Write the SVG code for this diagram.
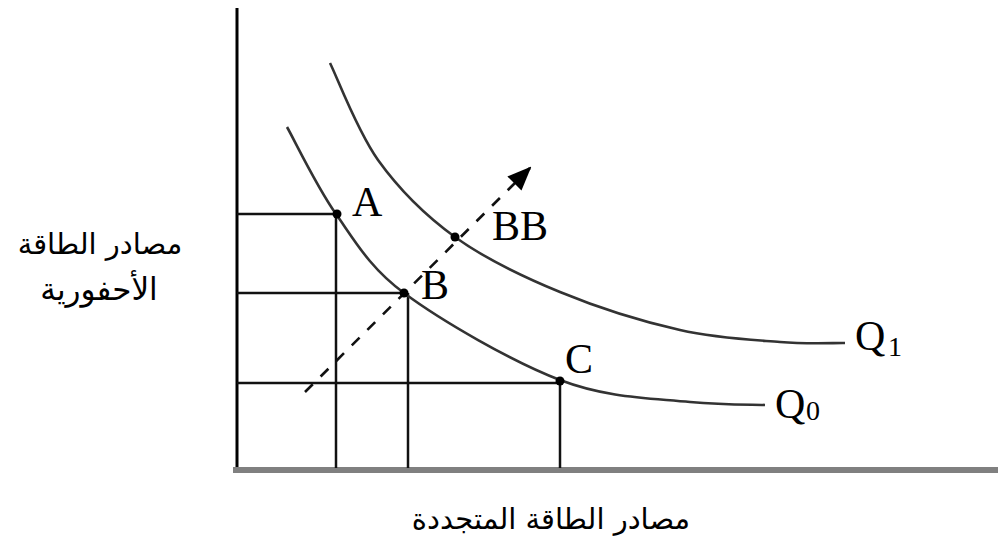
<svg xmlns="http://www.w3.org/2000/svg" width="998" height="542" viewBox="0 0 998 542">
<style>
.ax{stroke:#000;stroke-width:3;fill:none}
.guide{stroke:#111;stroke-width:2.5;fill:none}
.curve{stroke:#333;stroke-width:2.6;fill:none}
.lbl{font-family:"Liberation Serif",serif;font-size:42px;fill:#000}
.sub{font-family:"Liberation Serif",serif;font-size:28px;fill:#000}
.ar{font-family:"DejaVu Sans",sans-serif;font-size:29px;fill:#000}
.dot{fill:#000}
</style>
<defs>
<marker id="ah" viewBox="0 0 24 20" refX="22" refY="10" markerWidth="24" markerHeight="20" markerUnits="userSpaceOnUse" orient="auto">
<path d="M0,0 L24,10 L0,20 z" fill="#000"/>
</marker>
</defs>
<rect width="998" height="542" fill="#fff"/>
<g id="axes">
<line class="ax" x1="237" y1="8" x2="237" y2="470"/>
<line x1="233" y1="470" x2="998" y2="470" stroke="#808080" stroke-width="6"/>
</g>
<g id="connectors">
<line class="guide" x1="237" y1="214" x2="336" y2="214"/>
<line class="guide" x1="336" y1="214" x2="336" y2="468"/>
<line class="guide" x1="237" y1="293" x2="404" y2="293"/>
<line class="guide" x1="408" y1="293" x2="408" y2="468"/>
<line class="guide" x1="237" y1="383" x2="560" y2="383"/>
<line class="guide" x1="560" y1="381" x2="560" y2="468"/>
<line x1="305" y1="392" x2="530" y2="168" stroke="#111" stroke-width="2.6" stroke-dasharray="11,11" marker-end="url(#ah)"/>
</g>
<g id="Q0">
<path class="curve" d="M287,127 C295.2,141.5 316.5,186.3 336,214 C355.5,241.7 370,268 404,293 C441.3,320.7 512.3,361.8 560,380 C607.7,398.2 650,398 690,402 C724.2,405.2 752.5,404.5 765,405"/>
<text class="lbl" x="775" y="418">Q</text><text class="sub" x="806" y="420">0</text>
</g>
<g id="Q1">
<path class="curve" d="M330,63 C338,79.2 357.2,131 378,160 C398.8,189 424.7,215 455,237 C485.3,259 522.5,276.5 560,292 C597.5,307.5 643.3,321.7 680,330 C716.7,338.3 752.5,339.8 780,342 C807.5,344.2 834.2,342.8 845,343"/>
<text class="lbl" x="855" y="350">Q</text><text class="sub" x="888" y="356">1</text>
</g>
<g id="A"><circle class="dot" cx="337" cy="214" r="4.5"/><text class="lbl" x="352" y="216">A</text></g>
<g id="B"><circle class="dot" cx="404" cy="293" r="4.5"/><text class="lbl" x="421" y="299">B</text></g>
<g id="C"><circle class="dot" cx="560" cy="381" r="4.5"/><text class="lbl" x="565" y="373">C</text></g>
<g id="BB"><circle class="dot" cx="455" cy="237" r="4.5"/><text class="lbl" x="492" y="240">BB</text></g>
<g id="ylabel">
<text class="ar" x="100" y="254" text-anchor="middle" direction="rtl">مصادر الطاقة</text>
<text class="ar" x="99" y="300" text-anchor="middle" direction="rtl" style="font-size:31px">الأحفورية</text>
</g>
<g id="xlabel">
<text class="ar" x="551" y="529" text-anchor="middle" direction="rtl">مصادر الطاقة المتجددة</text>
</g>
</svg>
